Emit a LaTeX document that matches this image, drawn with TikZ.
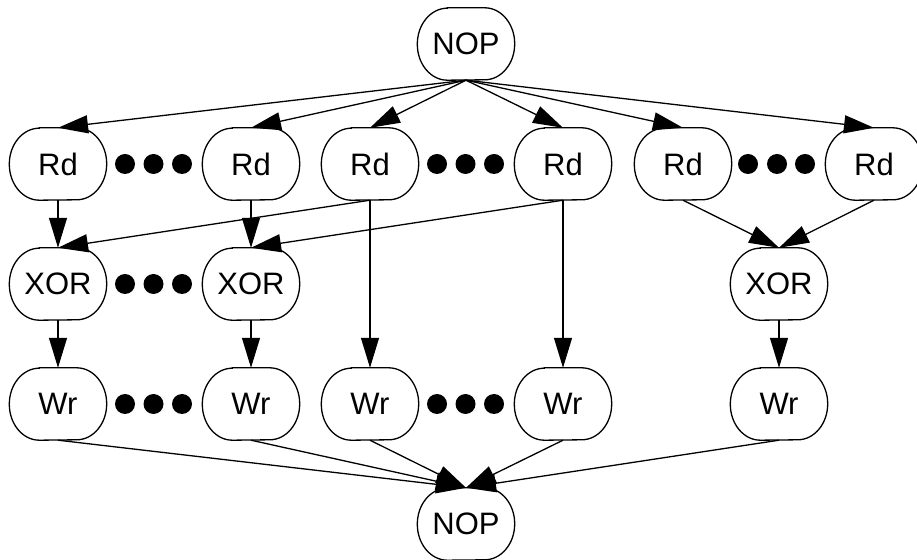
\documentclass[tikz,border=0pt]{standalone}
\usepackage{fontspec}
\setmainfont{Liberation Sans}
\usetikzlibrary{arrows.meta}
\begin{document}
\begin{tikzpicture}[x=1pt,y=1pt,
  op/.style={minimum width=97pt,minimum height=72pt,inner sep=0pt,font=\fontsize{31}{36}\selectfont},
  edge/.style={line width=1.3pt,-{Triangle[length=30pt,width=18pt]}},
  plain/.style={line width=1.3pt},
  outline/.style={line width=1.3pt}]
\useasboundingbox (0,0) rectangle (917,559);
% nodes
\node[op] (nt) at (466,515) {NOP};
\node[op] (r1) at (58,395) {Rd};
\node[op] (r2) at (251,395) {Rd};
\node[op] (r3) at (370,395) {Rd};
\node[op] (r4) at (563,395) {Rd};
\node[op] (r5) at (683,395) {Rd};
\node[op] (r6) at (874,395) {Rd};
\node[op] (x1) at (58,275) {XOR};
\node[op] (x2) at (251,275) {XOR};
\node[op] (x3) at (779,275) {XOR};
\node[op] (w1) at (58,155) {Wr};
\node[op] (w2) at (251,155) {Wr};
\node[op] (w3) at (370,155) {Wr};
\node[op] (w4) at (563,155) {Wr};
\node[op] (w5) at (779,155) {Wr};
\node[op] (nb) at (466,35) {NOP};
% outlines
\foreach \n in {nt,r1,r2,r3,r4,r5,r6,x1,x2,x3,w1,w2,w3,w4,w5,nb}{
  \draw[outline] ([xshift=30pt]\n.north west) -- ([xshift=-30pt]\n.north east)
    arc[start angle=90,end angle=-90,x radius=30pt,y radius=36pt]
    -- ([xshift=30pt]\n.south west)
    arc[start angle=270,end angle=90,x radius=30pt,y radius=36pt] -- cycle;
}
% dots
\foreach \y/\xs in {395/{125,153.5,182}, 395/{437,465.5,494}, 395/{748,777,805},
                    275/{125,153.5,182},
                    155/{125,153.5,182}, 155/{437,465.5,494}}{
  \foreach \x in \xs { \fill (\x,\y) circle[radius=10pt]; }
}
% edges
\foreach \r in {r1,r2,r3,r4,r5,r6}{ \draw[edge] (nt.south) -- (\r.north); }
\draw[edge] (r1.south) -- (x1.north);
\draw[edge] (r2.south) -- (x2.north);
\draw[edge] (r3.south) -- (x1.north);
\draw[edge] (r4.south) -- (x2.north);
\draw[edge] (r3.south) -- (w3.north);
\draw[edge] (r4.south) -- (w4.north);
\draw[edge] (r5.south) -- (x3.north);
\draw[edge] (r6.south) -- (x3.north);
\draw[edge] (x1.south) -- (w1.north);
\draw[edge] (x2.south) -- (w2.north);
\draw[edge] (x3.south) -- (w5.north);
\foreach \w in {w1,w2,w3,w4,w5}{ \draw[edge] (\w.south) -- (nb.north); }
\end{tikzpicture}
\end{document}
